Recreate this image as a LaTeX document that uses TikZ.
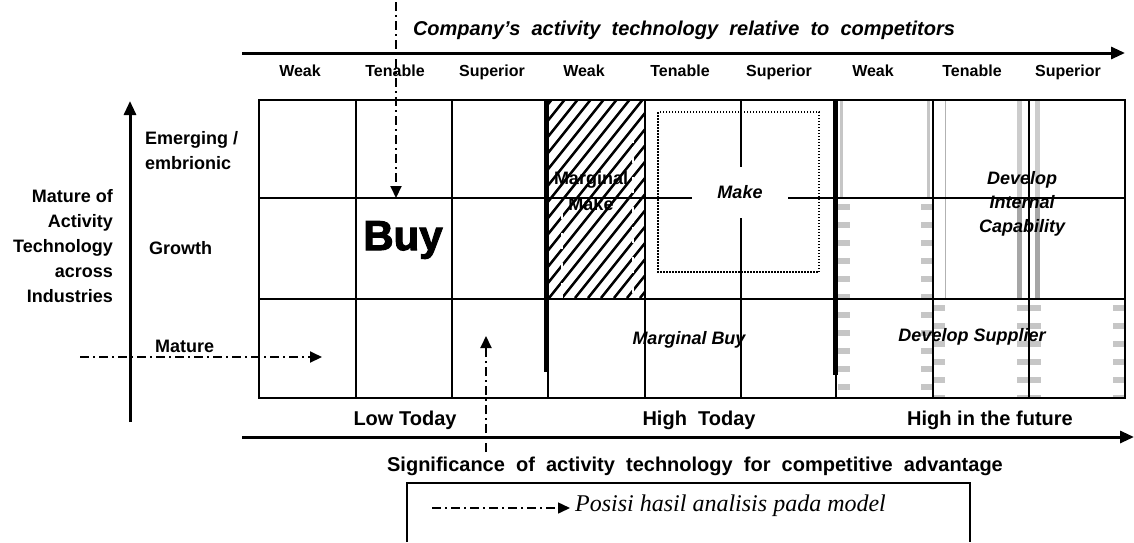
\documentclass[tikz,border=0pt]{standalone}
\usepackage{fontspec}
\setmainfont{Liberation Sans}
\newfontfamily\serifit{Liberation Serif}
\newfontfamily\buyfont[FakeBold=2.5]{Liberation Sans}
\usetikzlibrary{arrows.meta}
\tikzset{
  gridline/.style={line width=2pt},
  thickbar/.style={line width=5pt},
  axisline/.style={line width=3pt,-{Triangle[length=14pt,width=12pt]}},
  dashdot/.style={line width=2pt,dash pattern=on 9pt off 4pt on 2pt off 4pt,-{Triangle[length=12pt,width=11pt]}},
  collab/.style={inner sep=0pt,anchor=base,font=\bfseries\fontsize{16pt}{19pt}\selectfont},
  sidelab/.style={inner sep=0pt,font=\bfseries\fontsize{18pt}{25pt}\selectfont},
  zonelab/.style={inner sep=0pt,font=\bfseries\itshape\fontsize{18pt}{24pt}\selectfont,align=center},
  biglab/.style={inner sep=0pt,font=\bfseries\fontsize{20pt}{24pt}\selectfont},
  stripe/.style={gray!45,line width=12pt,dash pattern=on 6pt off 12pt},
}
\begin{document}
\begin{tikzpicture}[x=1pt,y=-1pt]
\useasboundingbox[fill=white] (0,0) rectangle (1134,542);

% ---- gray stripes (right block)
\draw[gray!45,line width=3pt] (841,100) -- (841,198);
\draw[stripe] (844,204) -- (844,398);
\draw[gray!45,line width=3pt] (928,100) -- (928,198);
\draw[stripe] (927,204) -- (927,398);
\draw[stripe] (939,305) -- (939,398);
\draw[gray!60,line width=1pt] (945,100) -- (945,299);
\draw[gray!40,line width=5pt] (1019,100) -- (1019,198);
\draw[gray!70,line width=5pt] (1019,198) -- (1019,299);
\draw[gray!40,line width=5pt] (1037,100) -- (1037,198);
\draw[gray!70,line width=5pt] (1037,198) -- (1037,299);
\draw[stripe] (1023,305) -- (1023,398);
\draw[stripe] (1035,305) -- (1035,398);
\draw[stripe] (1119,305) -- (1119,398);

% ---- hatched zone
\begin{scope}
\clip (549,100) rectangle (644,298);
\foreach \k in {-14,...,8}
  \draw[line width=2.5pt] (549+\k*13,298) -- ++(160,-200);
\end{scope}
\draw[white,line width=1.5pt,dash pattern=on 6pt off 4pt] (562,213) -- (562,298);
\draw[white,line width=1.5pt,dash pattern=on 6pt off 4pt] (633,137) -- (633,298);

% ---- grid
\draw[gridline] (259,100) rectangle (1125,398);
\draw[gridline] (259,198) -- (1125,198);
\draw[gridline] (259,299) -- (1125,299);
\foreach \x in {356,452,548,645,741,836,933,1029}
  \draw[gridline] (\x,100) -- (\x,398);
\draw[thickbar] (546,100) -- (546,372);
\draw[thickbar] (835,100) -- (835,375);

% ---- dotted make box
\draw[line width=1.3pt,dash pattern=on 1.5pt off 1.5pt] (658,112) rectangle (819,272);
\node[fill=white,minimum width=96pt,minimum height=51pt,inner sep=0pt,
      font=\bfseries\itshape\fontsize{18pt}{22pt}\selectfont] (make) at (740,192) {Make};

% ---- zone labels
\node[sidelab,align=center,font=\bfseries\fontsize{18pt}{26pt}\selectfont] (mmake) at (591,191) {Marginal\\Make};
\node[inner sep=0pt,font=\buyfont\bfseries\fontsize{42pt}{46pt}\selectfont] (buy) at (403,240) {Buy};
\node[zonelab] (mbuy) at (689,340) {Marginal Buy};
\node[zonelab] (dic) at (1022,204) {Develop\\Internal\\Capability};
\node[zonelab] (dsup) at (972,337) {Develop Supplier};

% ---- axes
\coordinate (topL) at (242,53);
\coordinate (topR) at (1125,53);
\draw[axisline] (topL) -- (topR);
\coordinate (vB) at (130,422);
\coordinate (vT) at (130,101);
\draw[axisline] (vB) -- (vT);
\coordinate (botL) at (242,437);
\coordinate (botR) at (1134,437);
\draw[axisline] (botL) -- (botR);

\node[biglab,font=\bfseries\itshape\fontsize{20pt}{24pt}\selectfont] (title) at (684,30) {Company's\ \ activity\ \ technology\ \ relative\ \ to\ \ competitors};
\node[collab] (c1) at (300,76) {Weak};
\node[collab] (c2) at (395,76) {Tenable};
\node[collab] (c3) at (492,76) {Superior};
\node[collab] (c4) at (584,76) {Weak};
\node[collab] (c5) at (680,76) {Tenable};
\node[collab] (c6) at (779,76) {Superior};
\node[collab] (c7) at (873,76) {Weak};
\node[collab] (c8) at (972,76) {Tenable};
\node[collab] (c9) at (1068,76) {Superior};

\node[sidelab,align=right,anchor=east] (ylab) at (113,246) {Mature of\\Activity\\Technology\\across\\Industries};
\node[sidelab,align=left,anchor=west] (emg) at (145,151) {Emerging /\\embrionic};
\node[sidelab,anchor=west] (grw) at (149,248) {Growth};
\node[sidelab,anchor=west] (mat) at (155,346) {Mature};

\node[biglab,anchor=base] (low) at (405,425) {Low Today};
\node[biglab,anchor=base] (hightoday) at (699,425) {High\ \ Today};
\node[biglab,anchor=base] (future) at (990,425) {High in the future};
\node[biglab,anchor=base] (sig) at (695,471) {Significance\ \ of\ \ activity\ \ technology\ \ for\ \ competitive\ \ advantage};

% ---- dash-dot position arrows
\coordinate (dTop) at (396,2);
\coordinate (dBuy) at (396,198);
\draw[dashdot] (dTop) -- (dBuy);
\coordinate (mL) at (80,357);
\coordinate (mR) at (322,357);
\draw[dashdot] (mL) -- (mR);
\coordinate (uB) at (486,452);
\coordinate (uT) at (486,336);
\draw[dashdot] (uB) -- (uT);

% ---- legend
\draw[line width=1.5pt] (407,542) -- (407,483) -- (970,483) -- (970,542);
\coordinate (legA) at (432,508);
\coordinate (legB) at (570,508);
\draw[dashdot,line width=1.5pt] (legA) -- (legB);
\node[inner sep=0pt,anchor=west,font=\serifit\itshape\fontsize{24pt}{28pt}\selectfont] (legtext) at (575,506) {Posisi hasil analisis pada model};
\end{tikzpicture}
\end{document}
